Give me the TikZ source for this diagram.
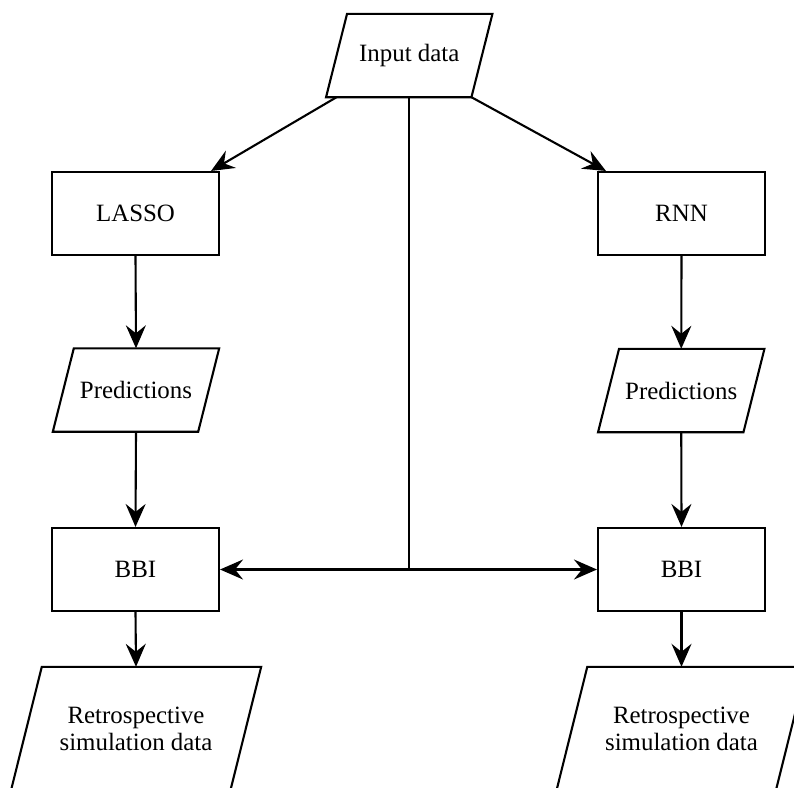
\documentclass[tikz,border=0pt]{standalone}
\usepackage{fontspec}
\setmainfont{Liberation Serif}
\usetikzlibrary{arrows.meta}

% draws a slanted input/output outline around a node of the given slant
\newcommand{\ioframe}[2]{%
  \draw[line] ([xshift=#2]#1.north west) -- ([xshift=#2]#1.north east)
    -- ([xshift=-#2]#1.south east) -- ([xshift=-#2]#1.south west) -- cycle;}

\begin{document}
\begin{tikzpicture}[x=1pt,y=-1pt,
  line/.style={line width=2.1pt, line join=miter},
  arr/.style={line, -{Stealth[length=23pt,width=20pt,inset=8pt]}},
  lbl/.style={font=\fontsize{24.9}{27}\selectfont, align=center, inner sep=0pt},
  procbox/.style={lbl, draw, line width=2.1pt, minimum width=167pt, minimum height=83pt},
  iobox/.style={lbl, minimum width=145pt, minimum height=83pt},
  outbox/.style={lbl, minimum width=219pt, minimum height=124pt}]
\useasboundingbox (0,0) rectangle (794,787);
\clip (0,0) rectangle (794,787);

% nodes
\node[iobox]   (in)    at (409.25,55.5) {Input data};
\node[procbox] (lasso) at (135.5,213.5) {LASSO};
\node[procbox] (rnn)   at (681.5,213.5) {RNN};
\node[iobox]   (predL) at (136,390)     {Predictions};
\node[iobox]   (predR) at (681.25,390.5) {Predictions};
\node[procbox] (bbiL)  at (135.5,569.5) {BBI};
\node[procbox] (bbiR)  at (681.5,569.5) {BBI};
\node[outbox]  (retL)  at (136,729)     {Retrospective\\simulation data};
\node[outbox]  (retR)  at (681.5,729)   {Retrospective\\simulation data};

% slanted outlines
\ioframe{in}{10.5pt}
\ioframe{predL}{10.5pt}
\ioframe{predR}{10.5pt}
\ioframe{retL}{15.5pt}
\ioframe{retR}{15.5pt}

% connectors
\draw[arr] (in.south west) -- ([xshift=-9pt]lasso.north east);
\draw[arr] ([xshift=-10.5pt]in.south east) -- ([xshift=9pt]rnn.north west);
\draw[arr] (lasso.south) -- (predL.north);
\draw[arr] (rnn.south) -- (predR.north);
\draw[arr] (predL.south) -- (bbiL.north);
\draw[arr] (predR.south) -- (bbiR.north);
\draw[arr] (bbiL.south) -- (retL.north);
\draw[arr] (bbiR.south) -- (retR.north);

\coordinate (split) at (in.south |- bbiL.east);
\draw[line] (in.south) -- (split);
\draw[arr] (split) -- (bbiL.east);
\draw[arr] (split) -- (bbiR.west);
\end{tikzpicture}
\end{document}
